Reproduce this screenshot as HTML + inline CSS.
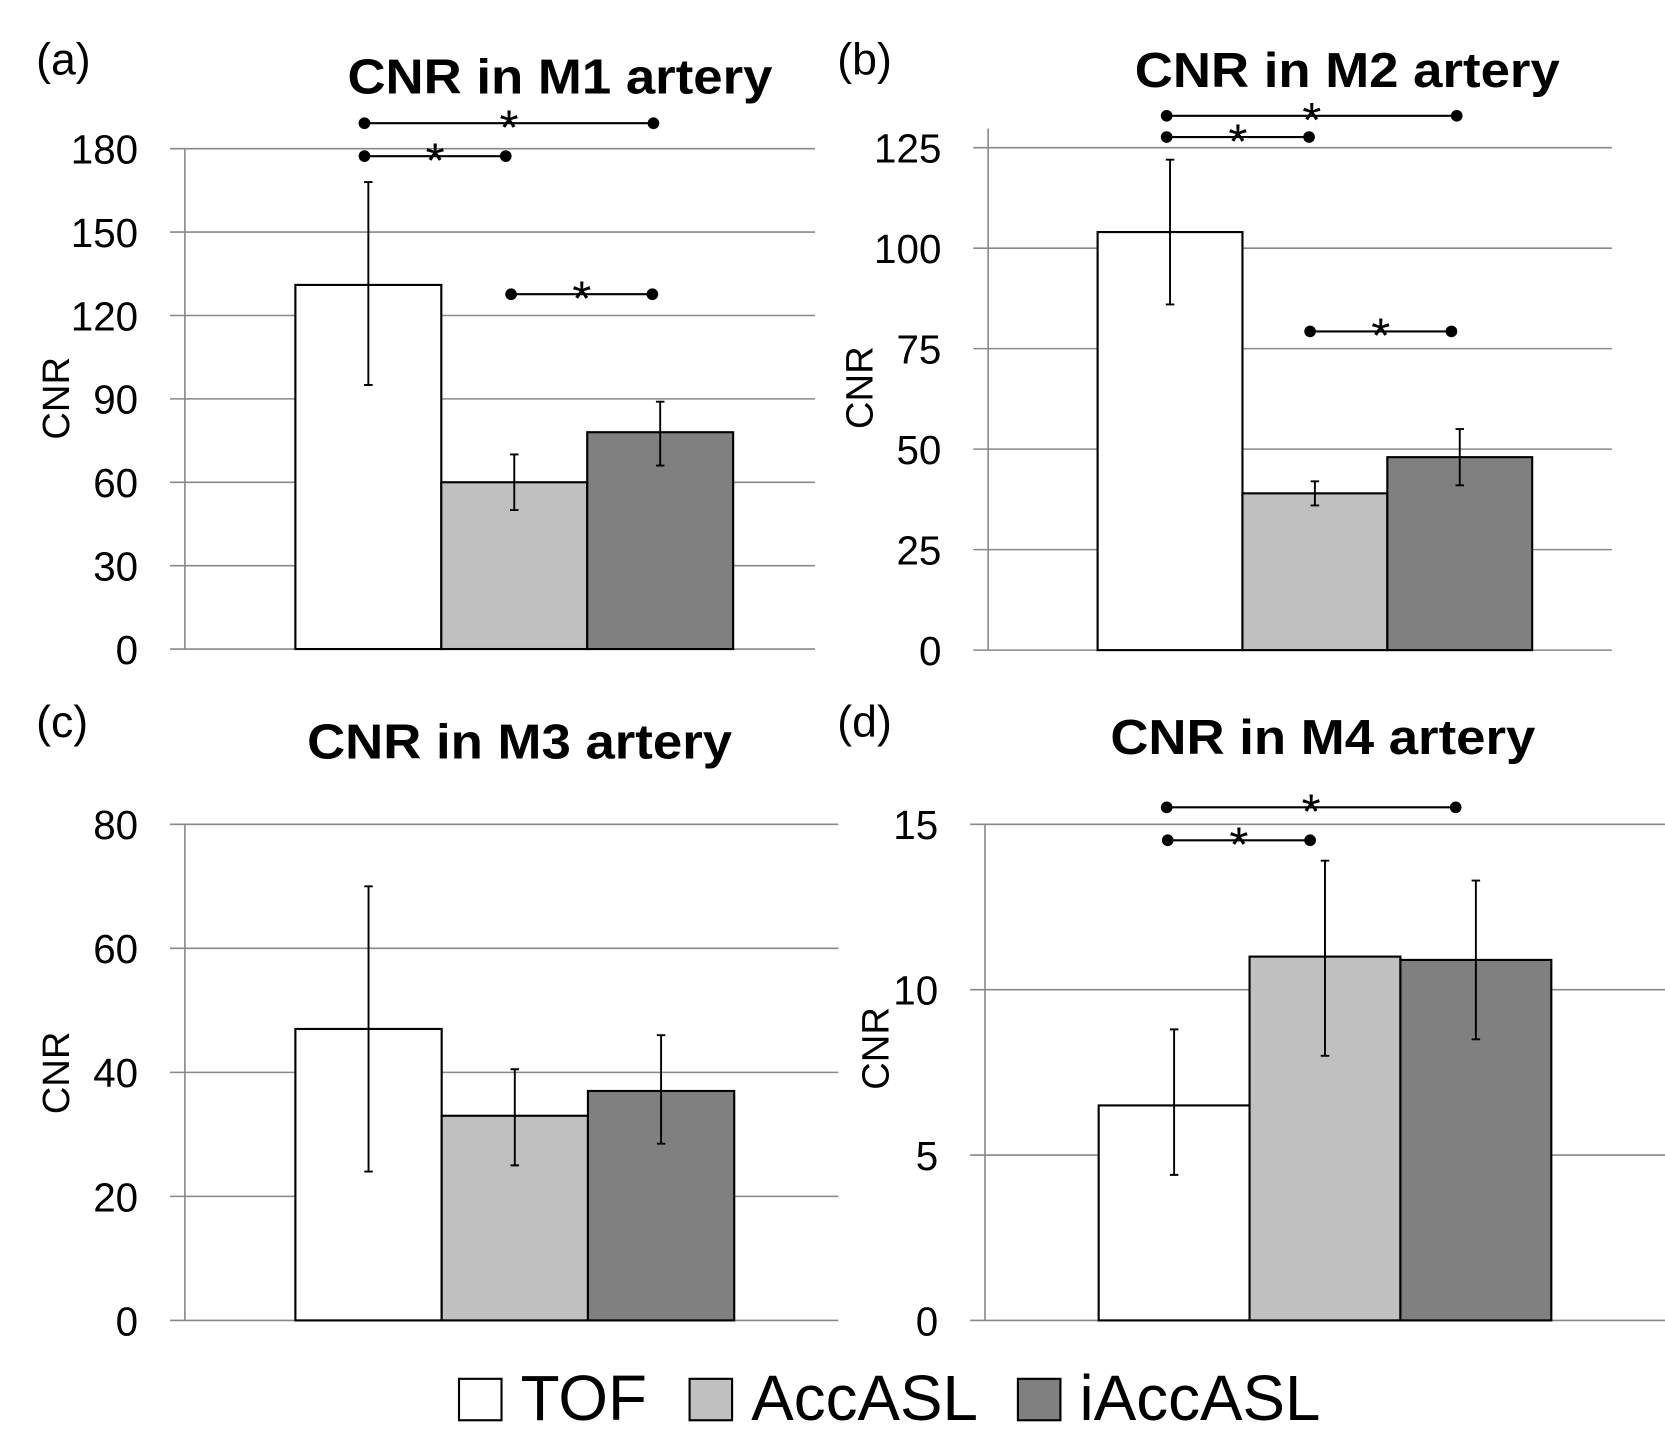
<!DOCTYPE html>
<html><head><meta charset="utf-8"><style>
html,body{margin:0;padding:0;background:#fff}
svg{display:block}
text{font-family:"Liberation Sans",sans-serif;fill:#000}
</style></head><body>
<svg id="chart" width="1665" height="1450" viewBox="0 0 1567 1365" preserveAspectRatio="none" xmlns="http://www.w3.org/2000/svg"></svg>
<script>
const groups = ["TOF", "AccASL", "iAccASL"];
const fills = ["#ffffff", "#c0c0c0", "#808080"];
const m1Values = [131, 60, 78];
const m1Lo = [95, 50, 66];
const m1Hi = [168, 70, 89];
const m2Values = [104, 39, 48];
const m2Lo = [86, 36, 41];
const m2Hi = [122, 42, 55];
const m3Values = [47, 33, 37];
const m3Lo = [24, 25, 28.5];
const m3Hi = [70, 40.5, 46];
const m4Values = [6.5, 11, 10.9];
const m4Lo = [4.4, 8, 8.5];
const m4Hi = [8.8, 13.9, 13.3];
const m1Ticks = [0, 30, 60, 90, 120, 150, 180];
const m2Ticks = [0, 25, 50, 75, 100, 125];
const m3Ticks = [0, 20, 40, 60, 80];
const m4Ticks = [0, 5, 10, 15];

const NS = "http://www.w3.org/2000/svg";
const svg = document.getElementById("chart");
function mk(tag, attrs, parent, txt) {
  const e = document.createElementNS(NS, tag);
  for (const k in attrs) e.setAttribute(k, attrs[k]);
  if (txt !== undefined) e.textContent = txt;
  (parent || svg).appendChild(e);
  return e;
}

function panel(cfg) {
  const g = mk("g", {});
  
  
  const max = cfg.ticks[cfg.ticks.length - 1];
  const y = v => cfg.y0 - (v / max) * (cfg.y0 - cfg.yTop);
  const bw = (cfg.bx1 - cfg.bx0) / 3;
  const x = i => cfg.bx0 + i * bw;
  cfg.ticks.forEach(t => {
    const l = mk("line", {x1: cfg.gx0, x2: cfg.gx1, y1: y(t), y2: y(t), stroke: "#888", "stroke-width": 1.5}, g);
    
    
    const tl = mk("text", {x: cfg.ax - 44, y: y(t) + 14, "text-anchor": "end", "font-size": 38}, g, t);
    
    
  });
  const ax = mk("line", {x1: cfg.ax, x2: cfg.ax, y1: y(max) - (cfg.axExtra || 0), y2: cfg.y0, stroke: "#888", "stroke-width": 1.5}, g);
  
  
  cfg.values.forEach((v, i) => {
    const r = mk("rect", {x: x(i), y: y(v), width: bw, height: cfg.y0 - y(v), fill: fills[i], stroke: "#000", "stroke-width": 2}, g);
    
    
  });
  cfg.values.forEach((v, i) => {
    const cx = x(i) + bw / 2;
    const e = mk("path", {d: `M${cx - 4},${y(cfg.hi[i])}H${cx + 4}M${cx},${y(cfg.hi[i])}V${y(cfg.lo[i])}M${cx - 4},${y(cfg.lo[i])}H${cx + 4}`, stroke: "#000", "stroke-width": 1.8, fill: "none"}, g);
    
    
  });
  (cfg.sig || []).forEach(s => {
    const sg = mk("g", {}, g);
    
    
    mk("line", {x1: s[1], x2: s[2], y1: s[0], y2: s[0], stroke: "#000", "stroke-width": 2}, sg);
    mk("circle", {cx: s[1], cy: s[0], r: 5.5}, sg);
    mk("circle", {cx: s[2], cy: s[0], r: 5.5}, sg);
    mk("text", {x: (s[1] + s[2]) / 2, y: s[0] + 20, "text-anchor": "middle", "font-size": 46}, sg, "*");
  });
  const t = mk("text", {x: cfg.tx, y: cfg.ty, "text-anchor": "middle", "font-size": 46, "font-weight": "bold", textLength: 400, lengthAdjust: "spacingAndGlyphs"}, g, cfg.title);
  
  
  const lb = mk("text", {x: cfg.lx, y: cfg.ly, "font-size": 42}, g, cfg.letter);
  
  
  const yl = mk("text", {x: 0, y: 0, "text-anchor": "middle", "font-size": 36, transform: `translate(${cfg.yx},${cfg.yy}) rotate(-90)`}, g, "CNR");
  
  
}

panel({name: "panel-m1", title: "CNR in M1 artery", letter: "(a)", ticks: m1Ticks, values: m1Values, lo: m1Lo, hi: m1Hi,
  ax: 174, gx0: 160, gx1: 767, y0: 611, yTop: 140, bx0: 278, bx1: 690, tx: 527, ty: 88, lx: 34, ly: 70, yx: 65, yy: 375,
  sig: [[116, 343, 615], [147, 343, 476], [277, 481, 614]]});
panel({name: "panel-m2", title: "CNR in M2 artery", letter: "(b)", ticks: m2Ticks, values: m2Values, lo: m2Lo, hi: m2Hi,
  ax: 930, gx0: 916, gx1: 1517, y0: 612, yTop: 139, bx0: 1033, bx1: 1442, tx: 1268, ty: 82, lx: 788, ly: 70, yx: 821, yy: 365, axExtra: 18,
  sig: [[109, 1098, 1371], [129, 1098, 1232], [312, 1233, 1366]]});
panel({name: "panel-m3", title: "CNR in M3 artery", letter: "(c)", ticks: m3Ticks, values: m3Values, lo: m3Lo, hi: m3Hi,
  ax: 174, gx0: 160, gx1: 789, y0: 1243, yTop: 776, bx0: 278, bx1: 691, tx: 489, ty: 714, lx: 34, ly: 694, yx: 65, yy: 1010});
panel({name: "panel-m4", title: "CNR in M4 artery", letter: "(d)", ticks: m4Ticks, values: m4Values, lo: m4Lo, hi: m4Hi,
  ax: 927, gx0: 913, gx1: 1567, y0: 1243, yTop: 776, bx0: 1034, bx1: 1460, tx: 1245, ty: 710, lx: 788, ly: 694, yx: 836, yy: 987,
  sig: [[760, 1098, 1370], [791, 1099, 1233]]});

const legX = [432, 649, 958];
const leg = mk("g", {});


groups.forEach((gname, i) => {
  const eg = mk("g", {}, leg);
  
  
  mk("rect", {x: legX[i], y: 1298, width: 40, height: 39, fill: fills[i], stroke: "#000", "stroke-width": 2}, eg);
  mk("text", {x: legX[i] + 58, y: 1337, "font-size": 60}, eg, gname);
});
</script>
</body></html>
